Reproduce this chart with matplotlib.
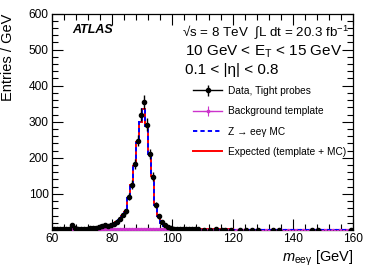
import numpy as np
import matplotlib
matplotlib.use("Agg")
import matplotlib.pyplot as plt
from matplotlib.ticker import MultipleLocator, FixedLocator
from matplotlib.lines import Line2D

plt.rcParams['font.family'] = ['Liberation Sans', 'DejaVu Sans']
plt.rcParams['mathtext.fontset'] = 'custom'
plt.rcParams['mathtext.rm'] = 'Liberation Sans'
plt.rcParams['mathtext.it'] = 'Liberation Sans:italic'
plt.rcParams['mathtext.bf'] = 'Liberation Sans:bold'

# bin edges 60..160 GeV, 1 GeV bins
bin_lo = 60
bin_hi = 160

data = [3, 2, 3, 2, 3, 2, 14, 5, 4, 4,
        3, 4, 5, 6, 5, 7, 12, 13, 12, 15,
        18, 22, 30, 42, 52, 92, 126, 183, 248, 320,
        354, 292, 210, 148, 70, 38, 22, 14, 9, 6,
        4, 3, 3, 2, 3, 2, 3, 2, 2, 0,
        1, 0, 1, 0, 2, 0, 1, 1, 0, 1,
        0, 0, 1, 0, 1, 0, 1, 0, 1, 0,
        0, 0, 0, 1, 0, 1, 0, 0, 0, 0,
        0, 0, 0, 0, 0, 0, 1, 0, 1, 0,
        0, 0, 0, 0, 0, 0, 0, 0, 0, 1]

zmc = [0.5, 0.5, 0.6, 0.6, 0.7, 0.8, 1.0, 1.2, 1.4, 1.6,
       1.8, 2.2, 2.6, 3.0, 3.6, 4.5, 6.0, 8.0, 10, 12,
       15, 20, 27, 37, 48, 88, 124, 176, 242, 298,
       334, 288, 208, 148, 70, 38, 20, 12, 7, 4.5,
       3.0, 2.2, 1.6, 1.2, 1.0, 0.8, 0.7, 0.6, 0.5, 0.5,
       0.4, 0.4, 0.4, 0.35, 0.35, 0.3, 0.3, 0.3, 0.3, 0.25,
       0.25, 0.25, 0.25, 0.2, 0.2, 0.2, 0.2, 0.2, 0.2, 0.2,
       0.2, 0.15, 0.15, 0.15, 0.15, 0.15, 0.15, 0.15, 0.15, 0.15,
       0.1, 0.1, 0.1, 0.1, 0.1, 0.1, 0.1, 0.1, 0.1, 0.1,
       0.1, 0.1, 0.1, 0.1, 0.1, 0.1, 0.1, 0.1, 0.1, 0.1]

bkg = [1.5, 1.5, 1.5, 1.5, 1.5, 1.5, 1.5, 1.5, 1.5, 1.5,
       1.5, 1.5, 1.5, 1.5, 1.5, 1.5, 1.5, 1.5, 1.5, 1.5,
       1.5, 1.5, 1.5, 1.5, 1.5, 1.5, 1.5, 1.5, 1.5, 1.5,
       1.5, 1.5, 1.5, 1.5, 1.5, 1.5, 1.5, 1.5, 1.5, 1.5,
       1.4, 1.4, 1.4, 1.4, 1.4, 1.3, 1.3, 1.3, 1.3, 1.3,
       1.2, 1.2, 1.2, 1.2, 1.2, 1.2, 1.2, 1.2, 1.2, 1.2,
       1.1, 1.1, 1.1, 1.1, 1.1, 1.1, 1.1, 1.1, 1.1, 1.1,
       1.1, 1.1, 1.1, 1.1, 1.1, 1.1, 1.1, 1.1, 1.1, 1.1,
       1.0, 1.0, 1.0, 1.0, 1.0, 1.0, 1.0, 1.0, 1.0, 1.0,
       1.0, 1.0, 1.0, 1.0, 1.0, 1.0, 1.0, 1.0, 1.0, 1.0]
bkg_err = 0.8

data = np.array(data, float)
zmc = np.array(zmc, float)
bkg = np.array(bkg, float)
expected = bkg + zmc

edges = np.arange(bin_lo, bin_hi + 1, 1.0)
centers = 0.5 * (edges[:-1] + edges[1:])

W, H = 374, 268
fig = plt.figure(figsize=(W / 100, H / 100), dpi=100)
L, R, T, B = 52, 353, 13.5, 230
ax = fig.add_axes([L / W, 1 - B / H, (R - L) / W, (B - T) / H])

magenta = '#cc33cc'

ax.stairs(expected, edges, color='red', lw=1.4, zorder=2)
bk = ax.errorbar(centers, bkg, yerr=bkg_err, xerr=0.5, fmt='s', ms=1.8,
                 color=magenta, mfc='none', lw=0.8, capsize=0, zorder=3)
ax.stairs(zmc, edges, color='blue', lw=1.4, ls=(0, (2.2, 1.6)), zorder=4)
mask = data > 0
dt = ax.errorbar(centers[mask], data[mask], yerr=np.sqrt(data[mask]), fmt='o',
                 ms=3.0, color='black', lw=1.0, capsize=0, zorder=5)

ax.set_xlim(bin_lo, bin_hi)
ax.set_ylim(0, 600)
ax.xaxis.set_major_locator(MultipleLocator(20))
ax.xaxis.set_minor_locator(MultipleLocator(4))
ax.yaxis.set_major_locator(FixedLocator([100, 200, 300, 400, 500, 600]))
ax.yaxis.set_minor_locator(MultipleLocator(20))
ax.tick_params(which='both', direction='in', top=True, right=True,
               labelsize=8.6, width=0.8)
ax.tick_params(which='major', length=8, pad=2.5)
ax.tick_params(which='minor', length=4)
for s in ax.spines.values():
    s.set_linewidth(0.9)

ax.set_ylabel('Entries / GeV', fontsize=10.5, loc='top')
ax.yaxis.set_label_coords(-0.122, 1.0)
ax.set_xlabel(r'$m_{\mathrm{ee\gamma}}$ [GeV]', fontsize=10.5, loc='right')
ax.xaxis.set_label_coords(1.0, -0.088)

fig.text(72 / W, 1 - 30 / H, 'ATLAS', fontsize=9, fontweight='bold',
         fontstyle='italic', va='center', ha='left')
fig.text(182 / W, 1 - 32 / H, '√s = 8 TeV  ∫L dt = 20.3 fb$^{-1}$',
         fontsize=9.6, va='center', ha='left')
fig.text(185 / W, 1 - 52 / H, r'10 GeV < E$_{\mathrm{T}}$ < 15 GeV',
         fontsize=11, va='center', ha='left')
fig.text(185 / W, 1 - 70 / H, '0.1 < |η| < 0.8',
         fontsize=11, va='center', ha='left')

h_dline = Line2D([], [], color='black', lw=1.0)
h_bline = Line2D([], [], color=magenta, lw=1.0)
h_exp = Line2D([], [], color='red', lw=1.4)
h_z = Line2D([], [], color='blue', lw=1.4, ls=(0, (2.2, 1.6)))
leg = fig.legend([(h_dline, dt), (h_bline, bk), h_z, h_exp],
                 ['Data, Tight probes', 'Background template',
                  'Z → eeγ MC', 'Expected (template + MC)'],
                 loc='upper left', bbox_to_anchor=(193 / W, 1 - 86 / H),
                 frameon=False, fontsize=7.3, borderpad=0, borderaxespad=0,
                 handlelength=2.9, handletextpad=0.55, labelspacing=1.02)

fig.savefig('out.png', dpi=100)
